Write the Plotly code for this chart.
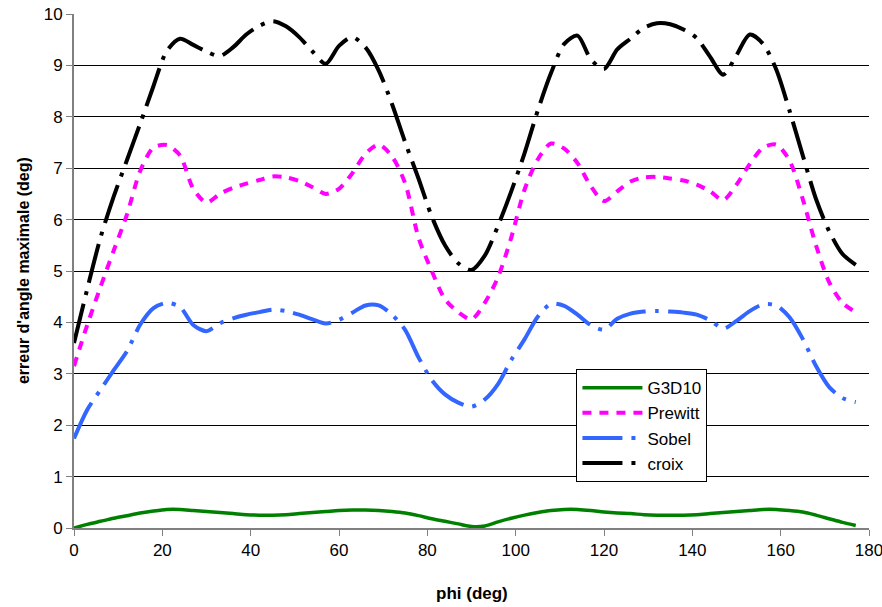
import plotly.graph_objects as go

phi = list(range(0, 178, 3))

g3d10 = [0.0, 0.07, 0.13, 0.19, 0.24, 0.29, 0.33, 0.36, 0.36, 0.34,
         0.32, 0.30, 0.28, 0.26, 0.25, 0.25, 0.26, 0.28, 0.30, 0.32,
         0.34, 0.35, 0.35, 0.34, 0.32, 0.29, 0.24, 0.18, 0.13, 0.08,
         0.03, 0.04, 0.12, 0.19, 0.25, 0.30, 0.34, 0.36, 0.36, 0.34,
         0.31, 0.29, 0.28, 0.26, 0.25, 0.25, 0.25, 0.26, 0.28, 0.30,
         0.32, 0.34, 0.36, 0.36, 0.34, 0.31, 0.25, 0.18, 0.11, 0.05]

prewitt = [3.15, 3.95, 4.69, 5.40, 6.10, 6.95, 7.40, 7.45, 7.25, 6.60,
           6.33, 6.50, 6.62, 6.70, 6.77, 6.84, 6.82, 6.75, 6.63, 6.50,
           6.60, 6.90, 7.28, 7.46, 7.23, 6.70, 5.65, 5.00, 4.45, 4.20,
           4.06, 4.38, 4.88, 5.65, 6.58, 7.17, 7.48, 7.38, 7.10, 6.65,
           6.36, 6.55, 6.74, 6.82, 6.83, 6.80, 6.76, 6.68, 6.55, 6.38,
           6.68, 7.08, 7.40, 7.46, 7.15, 6.40, 5.50, 4.78, 4.38, 4.20]

sobel = [1.74, 2.30, 2.69, 3.07, 3.44, 3.96, 4.28, 4.38, 4.30, 3.95,
         3.83, 3.98, 4.08, 4.15, 4.20, 4.25, 4.22, 4.15, 4.06, 3.98,
         4.05, 4.19, 4.33, 4.33, 4.15, 3.85, 3.32, 2.88, 2.60, 2.44,
         2.36, 2.50, 2.80, 3.27, 3.67, 4.11, 4.36, 4.32, 4.15, 3.95,
         3.86, 4.07, 4.17, 4.21, 4.22, 4.21, 4.19, 4.15, 4.04, 3.88,
         4.03, 4.22, 4.35, 4.33, 4.10, 3.68, 3.15, 2.74, 2.53, 2.45]

croix = [3.60, 4.65, 5.65, 6.45, 7.16, 7.87, 8.60, 9.28, 9.52, 9.40,
         9.27, 9.18, 9.35, 9.60, 9.77, 9.86, 9.76, 9.55, 9.27, 9.03,
         9.38, 9.55, 9.35, 8.90, 8.25, 7.50, 6.80, 6.06, 5.50, 5.15,
         5.02, 5.30, 5.88, 6.55, 7.29, 8.12, 8.85, 9.42, 9.58, 9.12,
         8.93, 9.31, 9.52, 9.73, 9.82, 9.80, 9.70, 9.53, 9.17, 8.82,
         9.20, 9.60, 9.42, 8.92, 8.12, 7.25, 6.40, 5.77, 5.33, 5.12]

x_ticks = [0, 20, 40, 60, 80, 100, 120, 140, 160, 180]
y_ticks = [0, 1, 2, 3, 4, 5, 6, 7, 8, 9, 10]

series = [
    ("G3D10", g3d10, "#008000", "solid", 3.5),
    ("Prewitt", prewitt, "#FF00FF", "9px,8px", 4),
    ("Sobel", sobel, "#3366FF", "40px,9px,4px,9px", 4),
    ("croix", croix, "#000000", "40px,9px,4px,9px", 4),
]

fig = go.Figure()
for name, vals, color, dash, w in series:
    fig.add_trace(go.Scatter(
        x=phi, y=vals, name=name, mode="lines",
        line=dict(color=color, width=w, dash=dash, shape="spline", smoothing=0.8),
    ))

font_family = "Liberation Sans, Arial, sans-serif"
fig.update_layout(
    width=882, height=607,
    margin=dict(l=74, r=13, t=14, b=79, autoexpand=False),
    paper_bgcolor="white", plot_bgcolor="white",
    font=dict(family=font_family, size=17, color="black"),
    showlegend=True,
    legend=dict(
        x=0.632, y=0.309, xanchor="left", yanchor="top",
        bgcolor="white", bordercolor="black", borderwidth=1,
        font=dict(size=17), tracegroupgap=3, itemwidth=60,
    ),
    annotations=[
        dict(text="<b>phi (deg)</b>", xref="paper", yref="paper",
             x=0.5, y=-0.128, xanchor="center", yanchor="middle",
             showarrow=False, font=dict(size=17)),
        dict(text="<b>erreur d'angle maximale (deg)</b>", xref="paper", yref="paper",
             x=-0.064, y=0.5, xanchor="center", yanchor="middle", textangle=-90,
             showarrow=False, font=dict(size=16)),
    ],
)
fig.update_xaxes(
    range=[0, 180], tickvals=x_ticks, ticktext=[str(v) for v in x_ticks],
    showgrid=False, zeroline=False, automargin=False,
    showline=True, linecolor="#808080", linewidth=2,
    ticks="outside", ticklen=6, tickcolor="#808080", tickwidth=1,
    tickfont=dict(size=17), ticklabeloverflow="allow",
)
fig.update_yaxes(
    range=[0, 10], tickvals=y_ticks, ticktext=[str(v) for v in y_ticks],
    showgrid=True, gridcolor="black", gridwidth=1, zeroline=False, automargin=False,
    showline=True, linecolor="#808080", linewidth=2,
    ticks="outside", ticklen=6, tickcolor="#808080", tickwidth=1,
    tickfont=dict(size=17), ticklabeloverflow="allow",
)

fig.write_html(
    "out.html",
    config={"displayModeBar": False},
    post_script="document.body.style.margin='0';document.body.style.overflow='hidden';",
)
